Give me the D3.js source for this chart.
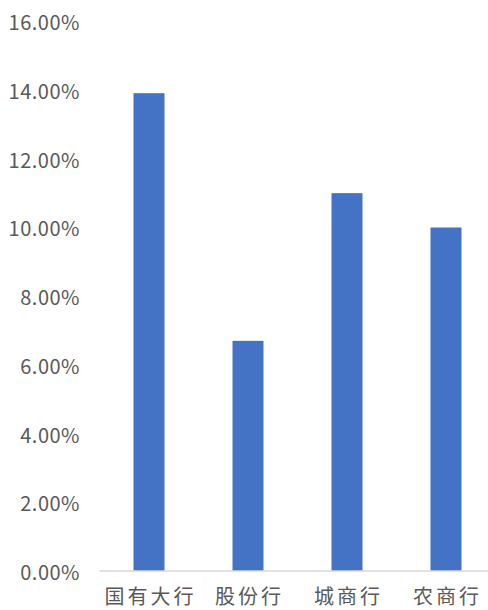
<!DOCTYPE html>
<html>
<head>
<meta charset="utf-8">
<script src="https://cdn.jsdelivr.net/npm/d3@7"></script>
<style>
  html, body { margin: 0; padding: 0; background: #fff; }
  svg { display: block; }
</style>
</head>
<body>
<svg id="chart" width="488" height="610"></svg>
<script>
const categories = ["国有大行", "股份行", "城商行", "农商行"];
const values = [0.1391, 0.0670, 0.1100, 0.1000];
const tickValues = [0, 0.02, 0.04, 0.06, 0.08, 0.10, 0.12, 0.14, 0.16];

(function () {
const svg = d3.select("#chart");
const mLeft = 99.5, mRight = 495.5, mTop = 21.4, mBottom = 571;

const x = d3.scaleBand().domain(categories).range([mLeft, mRight]).paddingInner(0.687).paddingOuter(0.3435);
const y = d3.scaleLinear().domain([0, 0.16]).range([mBottom, mTop]);

const font = "'Noto Sans CJK SC', 'Noto Sans', sans-serif";

// bars
svg.append("g").selectAll("rect").data(values).join("rect")
  .attr("x", (d, i) => x(categories[i]))
  .attr("y", d => y(d))
  .attr("width", x.bandwidth())
  .attr("height", d => y(0) - y(d))
  .attr("fill", "#4472C4");

// baseline
svg.append("line")
  .attr("x1", mLeft).attr("x2", 488)
  .attr("y1", y(0)).attr("y2", y(0))
  .attr("stroke", "#D9D9D9").attr("stroke-width", 1.5);

// y axis
const yAxis = svg.append("g")
  .attr("transform", `translate(${mLeft},0)`)
  .call(d3.axisLeft(y).tickValues(tickValues).tickFormat(d3.format(".2%")).tickSize(0).tickPadding(19.5));
yAxis.select(".domain").remove();
yAxis.selectAll("text")
  .attr("fill", "#595959")
  .attr("dy", "0.42em")
  .style("font-family", font)
  .style("font-size", "20px")
  .style("letter-spacing", "0.5px");

// x axis labels
const xAxis = svg.append("g")
  .attr("transform", `translate(0,${mBottom})`)
  .call(d3.axisBottom(x).tickSize(0).tickPadding(19));
xAxis.select(".domain").remove();
xAxis.selectAll("text")
  .attr("fill", "#595959")
  .attr("dx", "1.5px")
  .style("font-family", font)
  .style("font-size", "20px")
  .style("letter-spacing", "3px");
})();
</script>
</body>
</html>
